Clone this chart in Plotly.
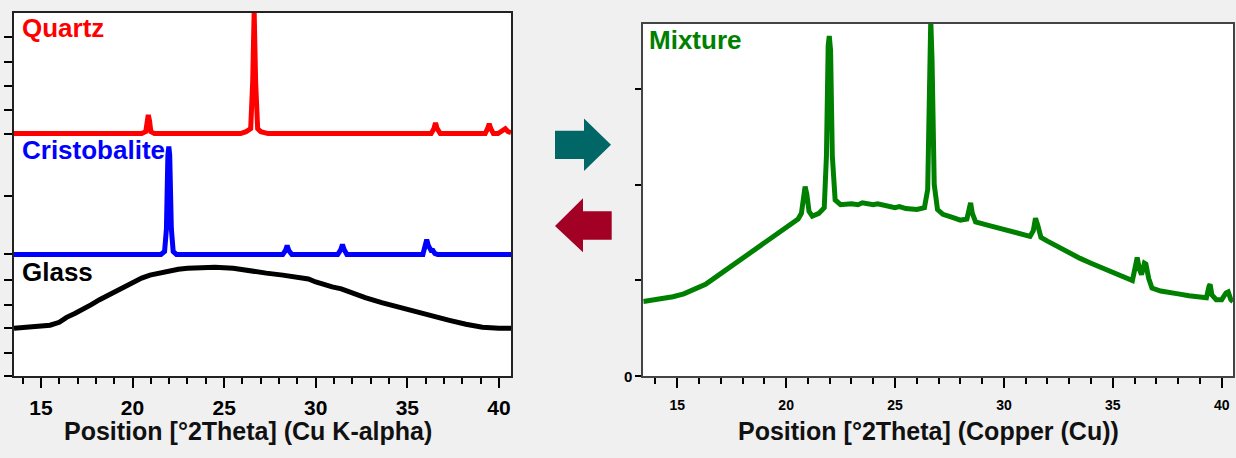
import plotly.graph_objects as go

# ---------------- data ----------------
# Left panel: stacked reference patterns (offset units, arbitrary)
quartz_x = [13.53, 20.5, 20.72, 20.8, 20.86, 20.93, 21.0, 21.2, 25.9, 26.2, 26.45, 26.56, 26.64,
            26.72, 26.83, 27.0, 27.4, 36.3, 36.45, 36.54, 36.63, 36.8, 39.25, 39.38, 39.47,
            39.56, 39.7, 39.95, 40.15, 40.35, 40.5, 40.66]
quartz_y = [247, 247, 249, 260, 266, 260, 249, 247, 247, 249, 252, 300, 372,
            300, 252, 249, 247, 247, 252, 258, 252, 247, 247, 252, 257,
            252, 247, 247, 249, 252, 249, 248]

cristo_x = [13.53, 21.55, 21.75, 21.85, 21.93, 21.98, 22.03, 22.12, 22.22, 22.4, 28.2, 28.35,
            28.44, 28.53, 28.7, 31.2, 31.37, 31.46, 31.55, 31.7, 35.85, 35.98, 36.06, 36.15,
            36.3, 36.4, 36.5, 36.65, 40.66]
cristo_y = [124, 124, 127, 150, 225, 234, 225, 150, 127, 124, 124, 128,
            133, 128, 124, 124, 129, 134, 129, 124, 124, 131, 139, 133,
            128, 128, 125, 124, 124]

glass_x = [13.53, 14.5, 15.5, 16.0, 16.4, 16.85, 17.3, 17.75, 18.2, 18.7, 19.2, 19.6, 20.0,
           20.5, 20.95, 21.4, 21.9, 22.5, 23.0, 23.7, 24.5, 25.5, 26.4, 27.3, 28.2, 29.1,
           29.6, 30.0, 30.5, 30.9, 31.4, 31.8, 32.3, 32.7, 33.6, 34.6, 35.5, 36.4, 37.3,
           38.2, 39.1, 40.0, 40.66]
glass_y = [49, 50, 52, 55, 60, 64, 68, 73, 78, 83, 88, 92, 96,
           100, 103, 105, 107, 109, 110, 111, 111, 110, 107, 105, 103, 101,
           99, 96, 93, 91, 89, 86, 82, 80, 75, 70, 65, 61, 57,
           53, 50, 49, 49]

left_ytick_vals = [0, 24, 49, 73, 98, 124, 184, 247, 271, 295, 320, 345]

# Right panel: mixture pattern
mix_x = [13.44, 13.8, 14.3, 14.8, 15.3, 15.8, 16.3, 16.8, 17.3, 17.8, 18.3, 18.8, 19.3, 19.8,
         20.2, 20.55, 20.7, 20.8, 20.87, 20.95, 21.05, 21.2, 21.5, 21.75, 21.85, 21.93, 21.98,
         22.04, 22.12, 22.25, 22.5, 23.0, 23.3, 23.5, 24.0, 24.2, 24.5, 25.0, 25.2, 25.5, 26.0,
         26.35, 26.5, 26.58, 26.64, 26.7, 26.8, 26.95, 27.2, 27.6, 28.0, 28.3, 28.42, 28.47,
         28.55, 28.7, 29.2, 29.7, 30.2, 30.7, 31.2, 31.35, 31.45, 31.55, 31.7, 32.0, 32.5,
         33.0, 33.5, 34.0, 34.5, 35.0, 35.5, 35.9, 36.05, 36.12, 36.22, 36.32, 36.45, 36.52,
         36.65, 36.8, 37.2, 37.6, 38.0, 38.5, 39.0, 39.3, 39.42, 39.47, 39.55, 39.75, 40.0,
         40.2, 40.3, 40.42, 40.52]
mix_y = [0.78, 0.79, 0.81, 0.83, 0.86, 0.91, 0.96, 1.04, 1.12, 1.20, 1.28, 1.36, 1.45, 1.53,
         1.59, 1.64, 1.70, 1.92, 1.98, 1.90, 1.72, 1.67, 1.70, 1.76, 2.30, 3.45, 3.55,
         3.40, 2.30, 1.84, 1.79, 1.80, 1.79, 1.81, 1.79, 1.80, 1.78, 1.76, 1.77, 1.75, 1.74,
         1.76, 1.95, 3.30, 3.72, 3.30, 2.00, 1.74, 1.69, 1.66, 1.63, 1.64, 1.80, 1.81,
         1.70, 1.61, 1.58, 1.55, 1.52, 1.49, 1.46, 1.52, 1.65, 1.58, 1.45, 1.41, 1.35,
         1.28, 1.23, 1.18, 1.13, 1.08, 1.04, 1.00, 1.16, 1.24, 1.12, 1.06, 1.18, 1.17,
         1.02, 0.92, 0.89, 0.87, 0.86, 0.84, 0.82, 0.82, 0.94, 0.96, 0.85, 0.80, 0.80,
         0.87, 0.88, 0.80, 0.78]

right_ytick_vals = [0, 1, 2, 3]
right_ytick_text = ["0", "", "", ""]

# ---------------- figure ----------------
W, H = 1236, 458
FONT = "Liberation Sans, Arial, sans-serif"


def px(x):
    return x / W


def py(y):
    return 1 - y / H


fig = go.Figure()
fig.add_trace(go.Scatter(x=glass_x, y=glass_y, mode="lines", xaxis="x", yaxis="y",
                         line=dict(color="#000000", width=5), hoverinfo="skip"))
fig.add_trace(go.Scatter(x=cristo_x, y=cristo_y, mode="lines", xaxis="x", yaxis="y",
                         line=dict(color="#0000ff", width=5), hoverinfo="skip"))
fig.add_trace(go.Scatter(x=quartz_x, y=quartz_y, mode="lines", xaxis="x", yaxis="y",
                         line=dict(color="#ff0000", width=5), hoverinfo="skip"))
fig.add_trace(go.Scatter(x=mix_x, y=mix_y, mode="lines", xaxis="x2", yaxis="y2",
                         line=dict(color="#008000", width=5), hoverinfo="skip"))

xcommon = dict(showgrid=False, zeroline=False, showline=True, mirror=True,
               ticks="outside", tick0=0, dtick=5, tickcolor="#000",
               minor=dict(ticks="outside", dtick=1, tick0=0, ticklen=6, tickcolor="#000",
                          showgrid=False))

fig.update_layout(
    width=W, height=H,
    margin=dict(l=0, r=0, t=0, b=0),
    paper_bgcolor="#f0f0f0",
    plot_bgcolor="#ffffff",
    showlegend=False,
    xaxis=dict(domain=[px(14), px(511)], range=[13.53, 40.66], anchor="y",
               linecolor="#222", linewidth=2, ticklen=10, tickwidth=2,
               ticklabelstandoff=1,
               tickfont=dict(family=FONT, size=21, color="#000", weight="bold"),
               **xcommon),
    yaxis=dict(domain=[py(383), py(13)], range=[0, 370], anchor="x",
               showgrid=False, zeroline=False, showline=True, mirror=True,
               linecolor="#222", linewidth=2, ticks="outside", ticklen=8, tickwidth=2,
               tickcolor="#000", tickvals=left_ytick_vals, showticklabels=False),
    xaxis2=dict(domain=[px(643.3), px(1233)], range=[13.44, 40.52], anchor="y2",
                linecolor="#444", linewidth=2, ticklen=10, tickwidth=2,
                ticklabelstandoff=5,
                tickfont=dict(family=FONT, size=14, color="#000", weight="bold"),
                **xcommon),
    yaxis2=dict(domain=[py(383), py(24)], range=[0, 3.68], anchor="x2",
                showgrid=False, zeroline=False, showline=True, mirror=True,
                linecolor="#444", linewidth=2, ticks="outside", ticklen=6, tickwidth=2,
                tickcolor="#000", tickvals=right_ytick_vals, ticktext=right_ytick_text,
                tickfont=dict(family=FONT, size=15, color="#000", weight="bold")),
)

labels = [
    ("Quartz", 20, 29, "#ff0000", 26),
    ("Cristobalite", 20, 153, "#0000ff", 26),
    ("Glass", 20, 277, "#000000", 26),
    ("Mixture", 647, 41, "#008000", 26),
]
for txt, x0, y0, col, sz in labels:
    fig.add_annotation(text=txt, xref="paper", yref="paper", x=px(x0), y=py(y0),
                       xanchor="left", yanchor="middle", showarrow=False,
                       font=dict(family=FONT, size=sz, color=col, weight="bold"))

titles = [
    ("Position [°2Theta] (Cu K-alpha)", 248, 439),
    ("Position [°2Theta] (Copper (Cu))", 928, 439),
]
for txt, x0, y0 in titles:
    fig.add_annotation(text=txt, xref="paper", yref="paper", x=px(x0), y=py(y0),
                       xanchor="center", yanchor="middle", showarrow=False,
                       font=dict(family=FONT, size=25, color="#111", weight="bold"))


def poly(points):
    return "M " + " L ".join(f"{px(a):.5f},{py(b):.5f}" for a, b in points) + " Z"


teal_arrow = [(555, 133), (584, 133), (584, 120.7), (611, 147.3), (584, 174), (584, 161.7), (555, 161.7)]
red_arrow = [(555, 230), (583, 201.7), (583, 215), (611.7, 215), (611.7, 244), (583, 244), (583, 256.7)]
fig.add_shape(type="path", xref="paper", yref="paper", path=poly(teal_arrow),
              fillcolor="#006666", line=dict(width=0))
fig.add_shape(type="path", xref="paper", yref="paper", path=poly(red_arrow),
              fillcolor="#a20025", line=dict(width=0))

fig.write_html("out.html")
